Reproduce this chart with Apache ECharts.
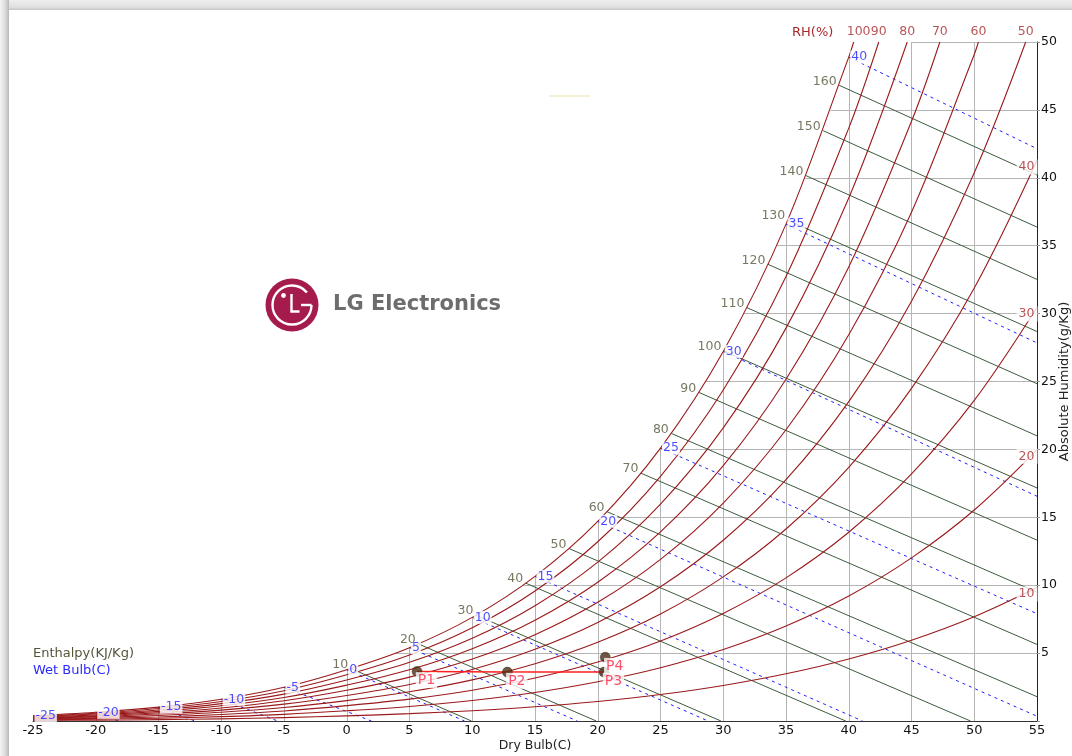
<!DOCTYPE html>
<html>
<head>
<meta charset="utf-8">
<script src="https://cdn.jsdelivr.net/npm/echarts@6/dist/echarts.min.js"></script>
<style>
  html, body { margin: 0; padding: 0; background: #fff; }
  #chart { width: 1072px; height: 756px; }
</style>
</head>
<body>
<div id="chart"></div>
<script>
// ---- Psychrometric chart data (dry bulb in °C, humidity ratio in g/kg) ----
const dryBulb = [-25, -20, -15, -10, -5, 0, 5, 10, 15, 20, 25, 30, 35, 40, 45, 50, 55];
const humidityTicks = [5, 10, 15, 20, 25, 30, 35, 40, 45, 50];
const humidityMax = 50;

// Relative humidity curves: humidity ratio at each dry-bulb step (null = above chart)
const rhLevels = [100, 90, 80, 70, 60, 50, 40, 30, 20, 10];
const rh100 = [0.39, 0.64, 1.02, 1.60, 2.48, 3.78, 5.40, 7.63, 10.65, 14.70, 20.09, 27.21, 36.59, 48.89, null, null, null];
const rh90  = [0.35, 0.57, 0.92, 1.44, 2.23, 3.40, 4.86, 6.86, 9.57, 13.20, 18.02, 24.38, 32.73, 43.66, null, null, null];
const rh80  = [0.31, 0.51, 0.81, 1.28, 1.98, 3.02, 4.32, 6.09, 8.49, 11.70, 15.97, 21.58, 28.93, 38.51, null, null, null];
const rh70  = [0.27, 0.45, 0.71, 1.12, 1.73, 2.64, 3.77, 5.32, 7.42, 10.22, 13.93, 18.80, 25.17, 33.44, 44.16, null, null];
const rh60  = [0.23, 0.38, 0.61, 0.96, 1.49, 2.26, 3.23, 4.56, 6.35, 8.74, 11.90, 16.05, 21.45, 28.44, 37.47, 49.08, null];
const rh50  = [0.19, 0.32, 0.51, 0.80, 1.24, 1.88, 2.69, 3.79, 5.28, 7.26, 9.88, 13.31, 17.77, 23.52, 30.91, 40.37, null];
const rh40  = [0.16, 0.25, 0.41, 0.64, 0.99, 1.50, 2.15, 3.03, 4.22, 5.80, 7.88, 10.61, 14.14, 18.68, 24.49, 31.88, 41.27];
const rh30  = [0.12, 0.19, 0.30, 0.48, 0.74, 1.13, 1.61, 2.27, 3.16, 4.34, 5.89, 7.92, 10.54, 13.90, 18.19, 23.61, 30.45];
const rh20  = [0.08, 0.13, 0.20, 0.32, 0.49, 0.75, 1.07, 1.51, 2.10, 2.89, 3.92, 5.26, 6.99, 9.20, 12.01, 15.54, 19.97];
const rh10  = [0.04, 0.06, 0.10, 0.16, 0.25, 0.38, 0.54, 0.76, 1.05, 1.44, 1.95, 2.62, 3.48, 4.57, 5.95, 7.68, 9.83];
// where each RH curve leaves the chart (top edge or right edge)
const rhEndT = [40.39, 42.39, 44.66, 47.26, 50.33, 54.10, 55, 55, 55, 55];
const rhEndW = [50, 50, 50, 50, 50, 50, 41.27, 30.45, 19.97, 9.83];

// Horizontal grid lines start on the saturation curve
const gridStartT = [3.90, 14.04, 20.31, 24.93, 28.59, 31.63, 34.24, 36.52, 38.55, 45];

// Enthalpy lines (kJ/kg): start on saturation, end on bottom or right edge
const enthalpyValues = [10, 20, 30, 40, 50, 60, 70, 80, 90, 100, 110, 120, 130, 140, 150, 160];
const enthalpyStartT = [0.32, 5.70, 10.30, 14.26, 17.71, 20.74, 23.44, 25.86, 28.05, 30.05, 31.88, 33.56, 35.14, 36.59, 37.96, 39.24];
const enthalpyStartW = [3.87, 5.68, 7.79, 10.15, 12.70, 15.41, 18.25, 21.18, 24.20, 27.25, 30.44, 33.63, 36.88, 40.16, 43.47, 46.81];
const enthalpyEndT   = [9.94, 19.88, 29.82, 39.76, 49.70, 55, 55, 55, 55, 55, 55, 55, 55, 55, 55, 55];
const enthalpyEndW   = [0, 0, 0, 0, 0, 1.79, 5.64, 9.48, 13.32, 17.16, 21.00, 24.84, 28.68, 32.52, 36.37, 40.21];

// Wet bulb lines (°C): start on saturation, end on bottom or right edge
const wetBulbValues = [-25, -20, -15, -10, -5, 0, 5, 10, 15, 20, 25, 30, 35, 40];
const wetBulbStartW = [0.39, 0.64, 1.02, 1.60, 2.48, 3.78, 5.40, 7.63, 10.65, 14.70, 20.09, 27.21, 36.59, 48.89];
const wetBulbEndT   = [-23.9, -18.2, -12.1, -5.5, 1.97, 9.38, 18.37, 28.80, 41.10, 55, 55, 55, 55, 55];
const wetBulbEndW   = [0, 0, 0, 0, 0, 0, 0, 0, 0, 0.35, 7.9, 16.55, 27.84, 42.14];

// State points
const pointNames = ['P1', 'P2', 'P3', 'P4'];
const pointT = [5.6, 12.8, 20.5, 20.6];
const pointW = [3.65, 3.6, 3.6, 4.7];
const processPath = ['P1', 'P2', 'P3'];

// ---- styling ----
const FONT = 'DejaVu Sans';
const RH_COLOR = '#9a1a1c';
const RH_TEXT = '#a82a2e';
const ENTH_COLOR = '#3e5b3e';
const ENTH_TEXT = '#55553a';
const WB_COLOR = '#1f1fff';
const GRID_COLOR = '#b5b5b5';

const rhCurves = [rh100, rh90, rh80, rh70, rh60, rh50, rh40, rh30, rh20, rh10];

// grid segments clipped to the saturation curve
const gridSegs = [];
dryBulb.forEach((t, i) => {
  if (t >= 55) return;
  const top = rh100[i] == null ? humidityMax : rh100[i];
  gridSegs.push({ coords: [[t, 0], [t, top]] });
});
humidityTicks.forEach((w, i) => {
  gridSegs.push({ coords: [[gridStartT[i], w], [55, w]] });
});

const enthSegs = enthalpyValues.map((h, i) => ({
  coords: [[enthalpyStartT[i], enthalpyStartW[i]], [enthalpyEndT[i], enthalpyEndW[i]]]
}));
const wbSegs = wetBulbValues.map((v, i) => ({
  coords: [[v, wetBulbStartW[i]], [wetBulbEndT[i], wetBulbEndW[i]]]
}));

const series = [];

series.push({
  type: 'lines', coordinateSystem: 'cartesian2d', silent: true, z: 1,
  lineStyle: { color: GRID_COLOR, width: 1, opacity: 1, curveness: 0 },
  data: gridSegs
});
series.push({
  type: 'lines', coordinateSystem: 'cartesian2d', silent: true, z: 2,
  lineStyle: { color: WB_COLOR, width: 1, opacity: 1, type: [3, 4], curveness: 0 },
  data: wbSegs
});
series.push({
  type: 'lines', coordinateSystem: 'cartesian2d', silent: true, z: 2,
  lineStyle: { color: ENTH_COLOR, width: 1, opacity: 1, curveness: 0 },
  data: enthSegs
});

rhCurves.forEach((arr, k) => {
  const pts = [];
  dryBulb.forEach((t, i) => {
    if (arr[i] != null && t < rhEndT[k]) pts.push([t, arr[i]]);
  });
  pts.push([rhEndT[k], rhEndW[k]]);
  series.push({
    type: 'line', name: 'RH ' + rhLevels[k], data: pts, smooth: 0.35,
    showSymbol: false, symbol: 'none', silent: true, z: 3,
    lineStyle: { color: RH_COLOR, width: 1.1 }
  });
});

// process path between state points
series.push({
  type: 'line', silent: true, z: 6, symbol: 'none',
  data: processPath.map(n => { const i = pointNames.indexOf(n); return [pointT[i], pointW[i]]; }),
  lineStyle: { color: '#ff1f1f', width: 1.5 }
});

// labels
const labelSeries = (data, label, z) => ({
  type: 'scatter', silent: true, z: z, symbolSize: 1,
  itemStyle: { color: 'rgba(0,0,0,0)' },
  data: data,
  label: Object.assign({ show: true, formatter: '{b}', fontFamily: FONT }, label)
});

series.push(labelSeries(
  wetBulbValues.map((v, i) => ({ name: String(v), value: [v, wetBulbStartW[i]] })),
  { position: 'right', distance: 1, color: WB_COLOR, fontSize: 12.5, backgroundColor: '#fff', padding: [0, 1], lineHeight: 13 }, 5));

series.push(labelSeries(
  enthalpyValues.map((h, i) => ({ name: String(h), value: [enthalpyStartT[i], enthalpyStartW[i]] })),
  { position: [-2, 3], align: 'right', verticalAlign: 'bottom', color: ENTH_TEXT, fontSize: 12.5 }, 5));

series.push(labelSeries(
  rhLevels.slice(0, 6).map((r, k) => ({
    name: String(r), value: [rhEndT[k], rhEndW[k]],
    label: r === 100 ? { offset: [5, 0] } : undefined
  })),
  { position: 'top', distance: 3, color: RH_TEXT, fontSize: 12.5 }, 5));

series.push(labelSeries(
  rhLevels.slice(6).map((r, j) => ({ name: String(r), value: [rhEndT[j + 6], rhEndW[j + 6]] })),
  { position: [1, 7], align: 'right', verticalAlign: 'middle', color: RH_TEXT, fontSize: 12.5, backgroundColor: '#fff', padding: [1, 3, 1, 2] }, 5));

// state points
series.push({
  type: 'scatter', silent: true, z: 7, symbolSize: 10,
  itemStyle: { color: '#4e2c14', borderColor: '#2e1808', borderWidth: 0.5 },
  data: pointNames.map((n, i) => ({ name: n, value: [pointT[i], pointW[i]] })),
  label: {
    show: true, formatter: '{b}', position: [4, 6], color: '#ff2446', fontSize: 14,
    fontFamily: FONT, backgroundColor: '#fff', padding: [1, 2, 0, 2], lineHeight: 15
  }
});

const graphic = [
  // window edge shading
  { type: 'rect', left: 0, top: 0, silent: true, z: 100,
    shape: { width: 1072, height: 10 },
    style: { fill: { type: 'linear', x: 0, y: 0, x2: 0, y2: 1,
      colorStops: [{ offset: 0, color: '#eeeeee' }, { offset: 0.7, color: '#e0e0e0' }, { offset: 1, color: '#c6c6c6' }] } } },
  { type: 'rect', left: 0, top: 0, silent: true, z: 100,
    shape: { width: 9, height: 756 },
    style: { fill: { type: 'linear', x: 0, y: 0, x2: 1, y2: 0,
      colorStops: [{ offset: 0, color: '#f4f4f4' }, { offset: 0.6, color: '#dadada' }, { offset: 1, color: '#b8b8b8' }] } } },
  // logo
  { type: 'circle', silent: true, z: 10, shape: { cx: 292, cy: 305, r: 26.5 }, style: { fill: '#a61b4d' } },
  { type: 'arc', silent: true, z: 11, shape: { cx: 292, cy: 305, r: 19.5, startAngle: 0, endAngle: Math.PI * 2 - 0.7, clockwise: true },
    style: { stroke: '#fff', lineWidth: 2.4, fill: null } },
  { type: 'line', silent: true, z: 11, shape: { x1: 301, y1: 305, x2: 311.5, y2: 305 }, style: { stroke: '#fff', lineWidth: 2.4 } },
  { type: 'polyline', silent: true, z: 11, shape: { points: [[291.5, 294], [291.5, 311.5], [299.5, 311.5]] }, style: { stroke: '#fff', lineWidth: 2.4, fill: null } },
  { type: 'circle', silent: true, z: 11, shape: { cx: 283.5, cy: 295.5, r: 2.4 }, style: { fill: '#fff' } },
  { type: 'text', silent: true, z: 11, x: 333, y: 305,
    style: { text: 'LG Electronics', fill: '#6d6d6d', font: 'bold 21px "DejaVu Sans"', verticalAlign: 'middle' } },
  // legend notes
  { type: 'text', silent: true, z: 10, x: 33, y: 654,
    style: { text: 'Enthalpy(KJ/Kg)', fill: ENTH_TEXT, font: '13px "DejaVu Sans"', verticalAlign: 'middle' } },
  { type: 'text', silent: true, z: 10, x: 33, y: 671,
    style: { text: 'Wet Bulb(C)', fill: '#2a2aff', font: '13px "DejaVu Sans"', verticalAlign: 'middle' } },
  { type: 'text', silent: true, z: 10, x: 792, y: 33,
    style: { text: 'RH(%)', fill: RH_TEXT, font: '13px "DejaVu Sans"', verticalAlign: 'middle' } },
  // faint stroke near the top
  { type: 'line', silent: true, z: 10, shape: { x1: 549, y1: 96, x2: 590, y2: 96 }, style: { stroke: '#f1ebc4', lineWidth: 1.5 } }
];

const option = {
  animation: false,
  backgroundColor: '#ffffff',
  textStyle: { fontFamily: FONT },
  grid: { left: 33, right: 35, top: 42, bottom: 35, containLabel: false, outerBoundsMode: 'none' },
  xAxis: {
    type: 'value', min: -25, max: 55, interval: 5,
    name: 'Dry Bulb(C)', nameLocation: 'middle', nameGap: 18, nameMoveOverlap: false,
    nameTextStyle: { color: '#222', fontSize: 12.5, fontFamily: FONT },
    axisLine: { show: true, onZero: false, lineStyle: { color: '#333', width: 1 } },
    axisTick: { show: false },
    axisLabel: { color: '#111', fontSize: 13, margin: 3, fontFamily: FONT },
    splitLine: { show: false }
  },
  yAxis: {
    type: 'value', position: 'right', min: 0, max: humidityMax, interval: 5,
    name: 'Absolute Humidity(g/Kg)', nameLocation: 'middle', nameRotate: 90, nameGap: 21, nameMoveOverlap: false,
    nameTextStyle: { color: '#222', fontSize: 13, fontFamily: FONT },
    axisLine: { show: true, onZero: false, lineStyle: { color: '#222', width: 1 } },
    axisTick: { show: true, length: 3, lineStyle: { color: '#999' } },
    axisLabel: { color: '#111', fontSize: 12.5, margin: 4, fontFamily: FONT,
      formatter: v => (v === 0 ? '' : String(v)) },
    splitLine: { show: false }
  },
  graphic: graphic,
  series: series
};

const chart = echarts.init(document.getElementById('chart'), null, { renderer: 'canvas' });
chart.setOption(option);
</script>
</body>
</html>
